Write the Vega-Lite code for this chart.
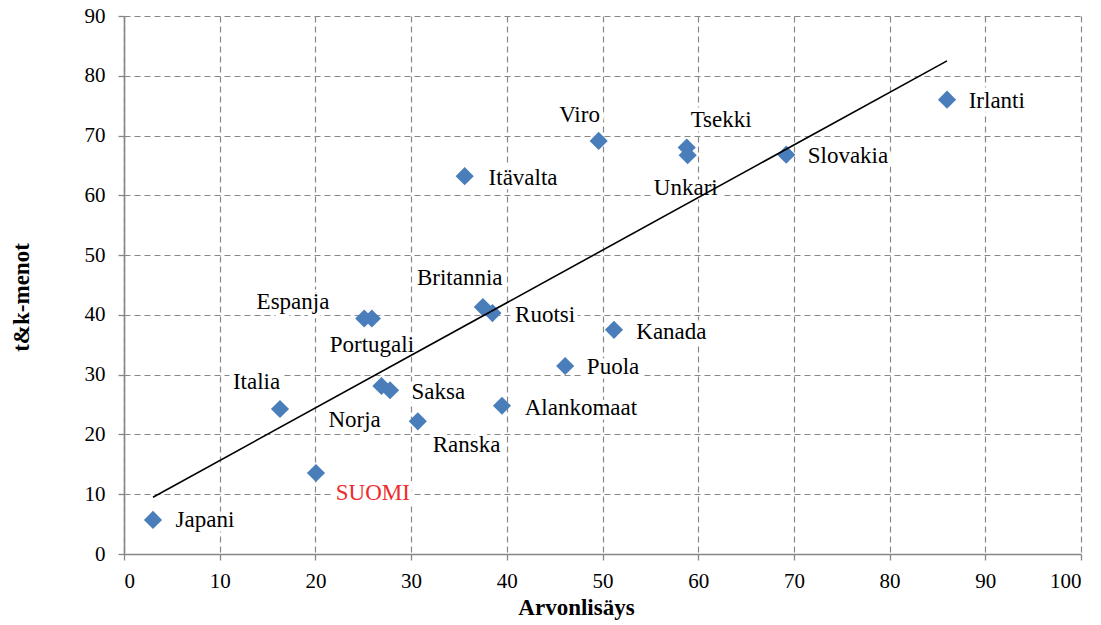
{
  "$schema": "https://vega.github.io/schema/vega-lite/v6.json",
  "width": 957,
  "height": 538,
  "autosize": {"type": "none"},
  "padding": {"left": 124, "top": 16, "right": 20, "bottom": 71},
  "background": "white",
  "config": {
    "view": {"stroke": null},
    "font": "Liberation Serif",
    "axis": {
      "grid": true,
      "gridColor": "#878787",
      "gridDash": [6, 4],
      "gridWidth": 1.2,
      "domainColor": "#868686",
      "domainWidth": 1.6,
      "tickColor": "#868686",
      "tickSize": 6,
      "tickWidth": 1.3,
      "labelFont": "Liberation Serif",
      "labelFontSize": 21,
      "labelColor": "#000000",
      "titleFont": "Liberation Serif",
      "titleFontSize": 23,
      "titleFontWeight": "bold",
      "titleColor": "#000000"
    }
  },
  "datasets": {
    "countries": [
      {"name": "Japani", "arvonlisays": 3.03, "tkmenot": 5.7, "label_x": 8.46, "label_y": 5.7},
      {"name": "SUOMI", "arvonlisays": 20.06, "tkmenot": 13.55, "label_x": 26.0, "label_y": 10.2},
      {"name": "Italia", "arvonlisays": 16.3, "tkmenot": 24.25, "label_x": 13.85, "label_y": 28.8},
      {"name": "Espanja", "arvonlisays": 25.1, "tkmenot": 39.4, "label_x": 17.66, "label_y": 42.2},
      {"name": "Portugali", "arvonlisays": 25.9, "tkmenot": 39.4, "label_x": 25.9, "label_y": 34.96},
      {"name": "Britannia", "arvonlisays": 37.5, "tkmenot": 41.3, "label_x": 35.08, "label_y": 46.1},
      {"name": "Ruotsi", "arvonlisays": 38.5, "tkmenot": 40.3, "label_x": 44.0, "label_y": 40.0},
      {"name": "Norja", "arvonlisays": 26.9, "tkmenot": 28.1, "label_x": 24.1, "label_y": 22.4},
      {"name": "Saksa", "arvonlisays": 27.8, "tkmenot": 27.4, "label_x": 32.85, "label_y": 27.15},
      {"name": "Ranska", "arvonlisays": 30.7, "tkmenot": 22.2, "label_x": 35.8, "label_y": 18.2},
      {"name": "Alankomaat", "arvonlisays": 39.5, "tkmenot": 24.8, "label_x": 47.75, "label_y": 24.5},
      {"name": "Puola", "arvonlisays": 46.1, "tkmenot": 31.45, "label_x": 51.1, "label_y": 31.3},
      {"name": "Kanada", "arvonlisays": 51.2, "tkmenot": 37.5, "label_x": 57.2, "label_y": 37.2},
      {"name": "Itävalta", "arvonlisays": 35.6, "tkmenot": 63.2, "label_x": 41.7, "label_y": 62.9},
      {"name": "Viro", "arvonlisays": 49.6, "tkmenot": 69.1, "label_x": 47.6, "label_y": 73.4},
      {"name": "Tsekki", "arvonlisays": 58.8, "tkmenot": 68.0, "label_x": 62.4, "label_y": 72.6},
      {"name": "Unkari", "arvonlisays": 58.9, "tkmenot": 66.7, "label_x": 58.7, "label_y": 61.2},
      {"name": "Slovakia", "arvonlisays": 69.2, "tkmenot": 66.8, "label_x": 75.65, "label_y": 66.6},
      {"name": "Irlanti", "arvonlisays": 86.0, "tkmenot": 76.0, "label_x": 91.2, "label_y": 75.8}
    ],
    "trend": [
      {"arvonlisays": 3.03, "tkmenot": 9.5},
      {"arvonlisays": 86.0, "tkmenot": 82.5}
    ]
  },
  "layer": [
    {
      "data": {"name": "countries"},
      "mark": {"type": "text", "stroke": "white", "strokeWidth": 9, "strokeJoin": "round", "fill": "white", "fontSize": 23, "font": "Liberation Serif", "baseline": "middle", "align": "center"},
      "encoding": {
        "x": {"field": "label_x", "type": "quantitative", "title": "Arvonlisäys", "scale": {"domain": [0, 100], "nice": false},
          "axis": {"values": [0, 10, 20, 30, 40, 50, 60, 70, 80, 90, 100], "labelPadding": 10, "titleX": 452, "titleY": 53, "titleBaseline": "middle", "titleAnchor": null}},
        "y": {"field": "label_y", "type": "quantitative", "title": "t&k-menot", "scale": {"domain": [0, 90], "nice": false},
          "axis": {"values": [0, 10, 20, 30, 40, 50, 60, 70, 80, 90], "labelPadding": 13, "titleX": -103, "titleY": 281, "titleBaseline": "middle", "titleAlign": "center", "titleAngle": -90}},
        "text": {"field": "name"}
      }
    },
    {
      "data": {"name": "countries"},
      "mark": {"type": "text", "fontSize": 23, "font": "Liberation Serif", "baseline": "middle", "align": "center"},
      "encoding": {
        "x": {"field": "label_x", "type": "quantitative", "title": "Arvonlisäys", "scale": {"domain": [0, 100], "nice": false}},
        "y": {"field": "label_y", "type": "quantitative", "title": "t&k-menot", "scale": {"domain": [0, 90], "nice": false}},
        "text": {"field": "name"},
        "color": {"condition": {"test": "datum.name === 'SUOMI'", "value": "#ee2b2b"}, "value": "#000000"}
      }
    },
    {
      "data": {"name": "countries"},
      "mark": {"type": "point", "shape": "diamond", "filled": true, "size": 330, "color": "#4a7ebb", "opacity": 1},
      "encoding": {
        "x": {"field": "arvonlisays", "type": "quantitative", "title": "Arvonlisäys", "scale": {"domain": [0, 100], "nice": false}},
        "y": {"field": "tkmenot", "type": "quantitative", "title": "t&k-menot", "scale": {"domain": [0, 90], "nice": false}}
      }
    },
    {
      "data": {"name": "trend"},
      "mark": {"type": "line", "color": "#000000", "strokeWidth": 1.6},
      "encoding": {
        "x": {"field": "arvonlisays", "type": "quantitative", "title": "Arvonlisäys", "scale": {"domain": [0, 100], "nice": false}},
        "y": {"field": "tkmenot", "type": "quantitative", "title": "t&k-menot", "scale": {"domain": [0, 90], "nice": false}}
      }
    }
  ]
}
